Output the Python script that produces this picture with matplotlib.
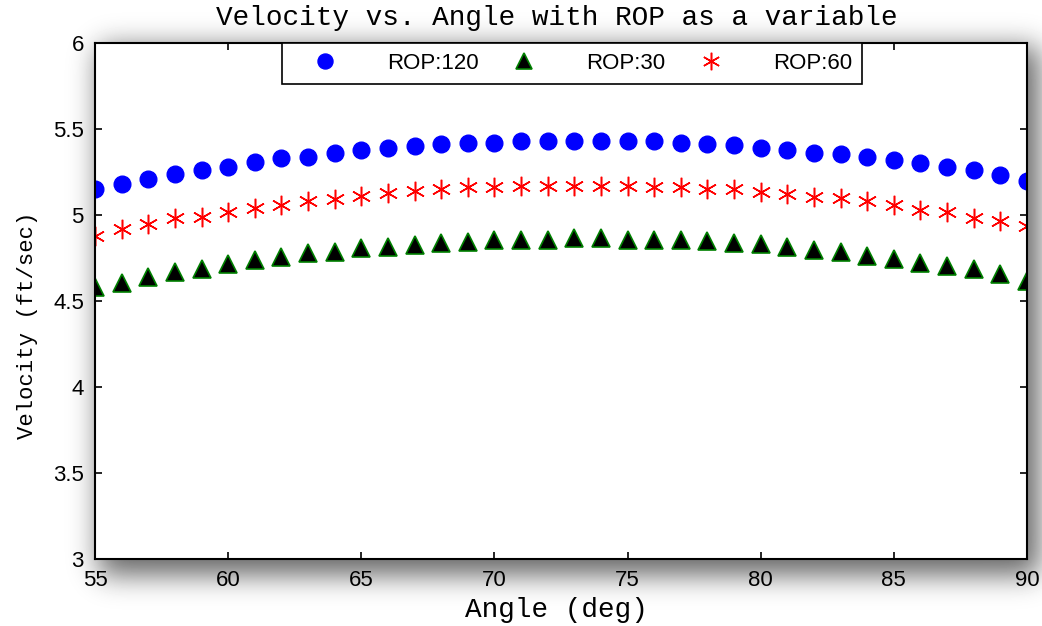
import math
import numpy as np
import matplotlib
matplotlib.use("Agg")
import matplotlib.pyplot as plt

# ---- data ----
angle = list(range(55, 91))
rop120 = [5.15, 5.18, 5.21, 5.24, 5.26, 5.28, 5.31, 5.33, 5.34, 5.36, 5.38, 5.39,
          5.40, 5.41, 5.42, 5.42, 5.43, 5.43, 5.43, 5.43, 5.43, 5.43, 5.42, 5.415,
          5.405, 5.39, 5.378, 5.362, 5.355, 5.34, 5.32, 5.30, 5.28, 5.26, 5.23, 5.20]
rop30 = [4.58, 4.606, 4.638, 4.667, 4.688, 4.715, 4.738, 4.758, 4.777, 4.787, 4.806,
         4.816, 4.828, 4.835, 4.845, 4.855, 4.855, 4.855, 4.864, 4.864, 4.855, 4.855,
         4.855, 4.849, 4.84, 4.83, 4.816, 4.797, 4.787, 4.76, 4.744, 4.723, 4.705,
         4.686, 4.655, 4.618]
rop60 = [4.88, 4.92, 4.95, 4.98, 4.99, 5.015, 5.04, 5.06, 5.08, 5.095, 5.11, 5.13,
         5.14, 5.15, 5.16, 5.16, 5.17, 5.17, 5.17, 5.17, 5.167, 5.165, 5.16, 5.15,
         5.15, 5.136, 5.12, 5.107, 5.097, 5.08, 5.06, 5.03, 5.02, 4.98, 4.967, 4.936]
xticks = [55, 60, 65, 70, 75, 80, 85, 90]
yticks = [3, 3.5, 4, 4.5, 5, 5.5, 6]

W, H = 1042, 626
fig = plt.figure(figsize=(W / 100, H / 100), dpi=100)

# ---- soft drop shadow behind the plot area (decorative) ----
L, R, T, B = 95, 1027, 43, 559
bg = fig.add_axes([0, 0, 1, 1], zorder=0)
bg.set_axis_off()
erf = np.vectorize(math.erf)
sig = 14.0
xs = np.arange(W) + 0.5
ys = np.arange(H) + 0.5
def band(c, a, b):
    return 0.5 * (erf((c - a) / (sig * math.sqrt(2))) - erf((c - b) / (sig * math.sqrt(2))))
gx = band(xs, L + 4, R + 12)
gy = band(ys, T + 4, B + 16)
shadow = np.outer(gy, gx)
img = 1.0 - 0.6 * shadow
bg.imshow(img, cmap="gray", vmin=0, vmax=1, extent=[0, W, H, 0], aspect="auto",
          interpolation="bilinear")
bg.set_xlim(0, W)
bg.set_ylim(H, 0)

ax = fig.add_axes([L / W, 1 - B / H, (R - L) / W, (B - T) / H], zorder=1)
ax.set_facecolor("white")

ax.plot(angle, rop120, linestyle="none", marker="o", markersize=12,
        markerfacecolor="#0000ff", markeredgecolor="#0000ff", label="ROP:120")
ax.plot(angle, rop30, linestyle="none", marker="^", markersize=13.5,
        markerfacecolor="black", markeredgecolor="#008000", markeredgewidth=1.2,
        label="ROP:30")
ax.plot(angle, rop60, linestyle="none", marker=(6, 2, 0), markersize=14,
        markeredgecolor="#ff0000", markeredgewidth=1.1, color="#ff0000",
        label="ROP:60")

ax.set_xlim(55, 90)
ax.set_ylim(3, 6)
ax.set_xticks(xticks)
ax.set_yticks(yticks)
ax.set_xticklabels([str(v) for v in xticks])
ax.set_yticklabels(["3", "3.5", "4", "4.5", "5", "5.5", "6"])
ax.tick_params(direction="in", length=5, width=1.2, top=True, right=True,
               labelsize=16, pad=8, colors="black")
for lab in ax.get_xticklabels() + ax.get_yticklabels():
    lab.set_family("Liberation Sans")
for s in ax.spines.values():
    s.set_linewidth(1.5)
    s.set_color("black")

mono = "Liberation Mono"
ax.set_title("Velocity vs. Angle with ROP as a variable", family=mono,
             fontsize=20, x=0.496, y=(B - 18) / (B - T), va="center", pad=0)
ax.set_xlabel("Angle (deg)", family=mono, fontsize=20, va="center")
ax.xaxis.set_label_coords((556 - L) / (R - L), -(610 - B) / (B - T))
ax.set_ylabel("Velocity (ft/sec)", family=mono, fontsize=16, va="center")
ax.yaxis.set_label_coords((28 - L) / (R - L), (B - 325) / (B - T))

lh = (90 - T) / (B - T)
leg = ax.legend(loc="upper left",
                bbox_to_anchor=((282 - L) / (R - L), 1.0 - lh,
                                (862 - 282) / (R - L), lh),
                ncol=3, mode="expand", frameon=True, fancybox=False,
                edgecolor="black", framealpha=1, borderaxespad=0,
                prop={"family": "Liberation Sans", "size": 16},
                handletextpad=1.3, columnspacing=2.0, borderpad=0.45,
                handlelength=3.0, markerscale=0.9)
leg.get_frame().set_linewidth(1.2)

fig.savefig("out.png", dpi=100)
